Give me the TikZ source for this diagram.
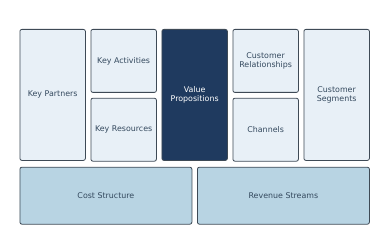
\documentclass[tikz,border=0pt]{standalone}
\usepackage{fontspec}
\setmainfont{DejaVu Sans}
\usepackage{xcolor}
\usetikzlibrary{positioning}

\definecolor{lightcell}{HTML}{E8F0F7}
\definecolor{darkcell}{HTML}{1F3A5F}
\definecolor{costcell}{HTML}{B8D4E3}
\definecolor{edgegray}{HTML}{3E4A56}
\definecolor{textgray}{HTML}{34495E}

\begin{document}
\begin{tikzpicture}[
    x=1pt, y=1pt,
    cell/.style={rectangle, draw=edgegray, line width=0.8pt, fill=lightcell, minimum width=65.5pt, minimum height=63pt, align=center, font=\fontsize{7.9}{9.6}\selectfont, text=textgray, rounded corners=2pt, inner sep=1pt},
    tall/.style={cell, minimum height=131pt},
    dcell/.style={tall, fill=darkcell, text=white},
    wide/.style={cell, fill=costcell, minimum width=172pt, minimum height=57pt}
]
\useasboundingbox (0,0) rectangle (388,-243);

% top row
\node[tall, anchor=north west] (kp) at (19.5,-29) {Key Partners};
\node[cell, below right=0pt and 4.7pt of kp.north east] (ka) {Key Activities};
\node[cell, below=5pt of ka] (kr) {Key Resources};
\node[dcell, below right=0pt and 4.7pt of ka.north east] (vp) {Value\\Propositions};
\node[cell, below right=0pt and 4.7pt of vp.north east] (cr) {Customer\\Relationships};
\node[cell, below=5pt of cr] (ch) {Channels};
\node[tall, below right=0pt and 4.7pt of cr.north east] (cs) {Customer\\Segments};

% bottom row
\node[wide, below right=6pt and 0pt of kp.south west] (cost) {Cost Structure};
\node[wide, anchor=north east] (rev) at (cs.south east |- cost.north) {Revenue Streams};

\end{tikzpicture}
\end{document}
